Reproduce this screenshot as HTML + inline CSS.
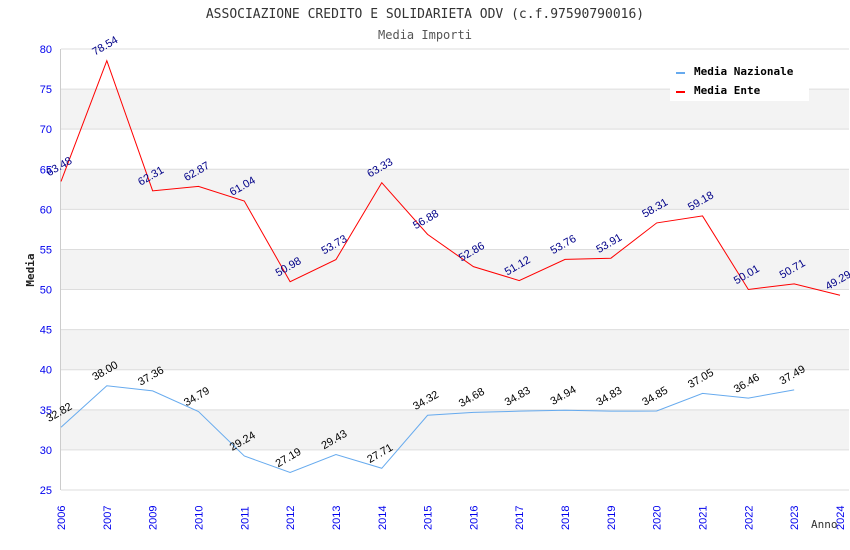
<!DOCTYPE html>
<html><head><meta charset="utf-8"><style>
body{margin:0;background:#fff}
svg{display:block}
text{font-family:"Liberation Sans","DejaVu Sans",sans-serif}
.mono{font-family:"DejaVu Sans Mono","Liberation Mono",monospace}
</style></head><body>
<svg id="chart" width="850" height="550" xmlns="http://www.w3.org/2000/svg">
<text class="mono" x="425" y="18" text-anchor="middle" font-size="13" fill="#333">ASSOCIAZIONE CREDITO E SOLIDARIETA ODV (c.f.97590790016)</text>
<text class="mono" x="425" y="39" text-anchor="middle" font-size="12" fill="#555">Media Importi</text>
<g id="bands"></g><g id="grid"></g><g id="axes"></g><g id="series"></g><g id="labels"></g>
<text class="mono" transform="translate(34,270) rotate(-90)" text-anchor="middle" font-size="11" font-weight="bold" fill="#222">Media</text>
<text class="mono" x="811" y="528" font-size="11" fill="#333">Anno</text>
<g>
<rect x="670" y="58" width="139" height="43" fill="#fff"/>
<rect x="676" y="72" width="9" height="2" fill="#66aaee"/>
<text class="mono" x="694" y="75" font-size="11" font-weight="bold" fill="#000">Media Nazionale</text>
<rect x="676" y="91" width="9" height="2" fill="#ff0000"/>
<text class="mono" x="694" y="94" font-size="11" font-weight="bold" fill="#000">Media Ente</text>
</g>
</svg>
<script>
const categories=["2006","2007","2009","2010","2011","2012","2013","2014","2015","2016","2017","2018","2019","2020","2021","2022","2023","2024"];
const enteValues=[63.48,78.54,62.31,62.87,61.04,50.98,53.73,63.33,56.88,52.86,51.12,53.76,53.91,58.31,59.18,50.01,50.71,49.29];
const nazionaleValues=[32.82,38.00,37.36,34.79,29.24,27.19,29.43,27.71,34.32,34.68,34.83,34.94,34.83,34.85,37.05,36.46,37.49];
const yTicks=[25,30,35,40,45,50,55,60,65,70,75,80];
const NS="http://www.w3.org/2000/svg";
const L=61,R=840,T=49,B=490,ymin=25,ymax=80;
const x=i=>L+i*(R-L)/(categories.length-1);
const y=v=>B-(v-ymin)/(ymax-ymin)*(B-T);
function mk(tag,attrs,parent){const e=document.createElementNS(NS,tag);for(const k in attrs)e.setAttribute(k,attrs[k]);document.getElementById(parent).appendChild(e);return e;}
for(let i=0;i<yTicks.length-1;i++){
 if(i%2===1){const r=mk('rect',{x:L,y:y(yTicks[i+1]),width:849-L,height:y(yTicks[i])-y(yTicks[i+1]),fill:'#f3f3f3'},'bands');
 
 }
}
yTicks.forEach(v=>{
 const g=mk('line',{x1:L,x2:849,y1:y(v),y2:y(v),stroke:'#ddd','stroke-width':1},'grid');
 
 
 const t=mk('text',{x:52,y:y(v)+4,'text-anchor':'end','font-size':11,fill:'#0000ee'},'axes');
 t.textContent=v;
 
 
});
const ax=mk('line',{x1:L-0.5,x2:L-0.5,y1:T,y2:B,stroke:'#ccc'},'axes');


categories.forEach((c,i)=>{
 const t=mk('text',{transform:`translate(${x(i)+4},${B+40}) rotate(-90)`,'text-anchor':'start','font-size':11,fill:'#0000ee'},'axes');
 t.textContent=c;
 
 
});
function series(vals,color,lblColor,name){
 const p=mk('polyline',{points:vals.map((v,i)=>x(i)+','+y(v)).join(' '),fill:'none',stroke:color,'stroke-width':1},'series');
 
 
 vals.forEach((v,i)=>{
  const t=mk('text',{transform:`translate(${x(i)-12},${y(v)-5}) rotate(-30)`,'font-size':11,fill:lblColor},'labels');
  t.textContent=v.toFixed(2);
  
  
 });
}
series(nazionaleValues,'#66aaee','#000','nazionale');
series(enteValues,'#ff0000','#000088','ente');
</script>
</body></html>
